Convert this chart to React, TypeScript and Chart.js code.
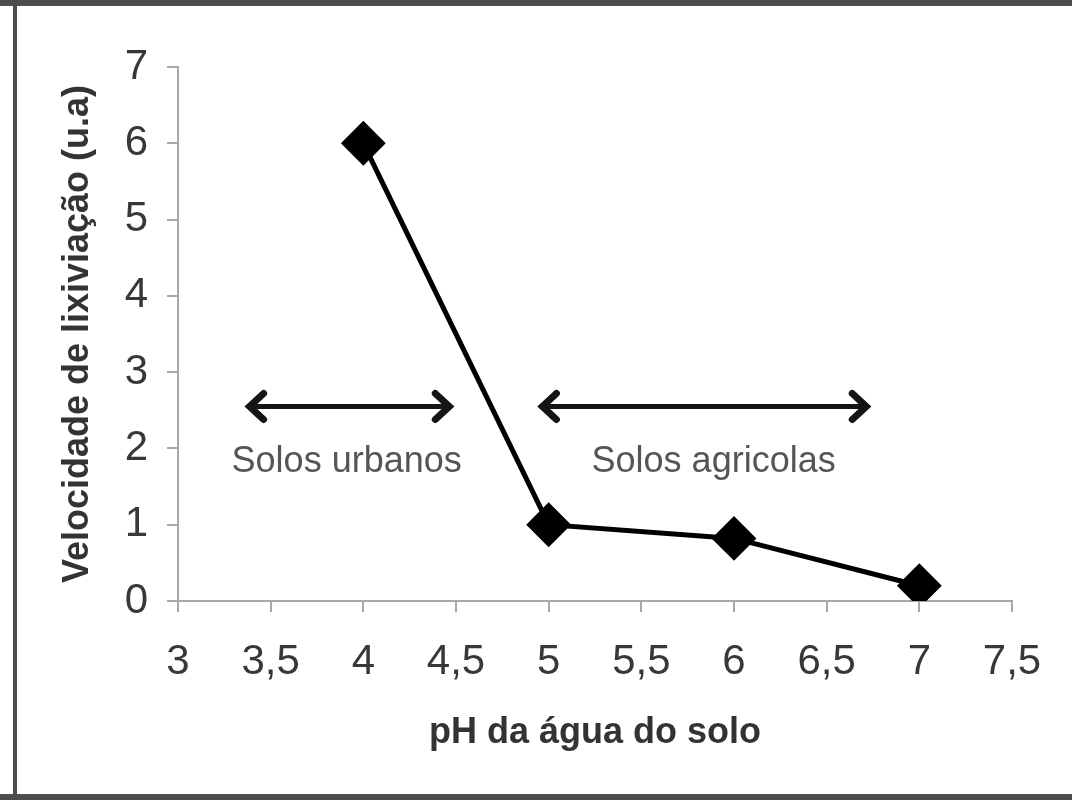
import React, { useEffect, useRef } from "react";
import { Chart, registerables } from "chart.js";

Chart.register(...registerables);

// ---- data ----
const phValues = [4, 5, 6, 7];
const leachingRates = [6, 1, 0.82, 0.2];
const xTickValues = [3, 3.5, 4, 4.5, 5, 5.5, 6, 6.5, 7, 7.5];
const yTickValues = [0, 1, 2, 3, 4, 5, 6, 7];
const xTitle = "pH da água do solo";
const yTitle = "Velocidade de lixiviação (u.a)";
const rangeLabels = ["Solos urbanos", "Solos agricolas"];
const rangeStart = [3.37, 4.95];
const rangeEnd = [4.48, 6.73];
const rangeArrowY = [2.55, 2.55];
const rangeLabelX = [3.91, 5.89];
const rangeLabelY = [1.69, 1.69];

const FONT = "'Liberation Sans', Arial, sans-serif";

const framePlugin = {
  id: "frame",
  beforeDraw(chart: any) {
    const { ctx, width, height } = chart;
    ctx.save();
    ctx.fillStyle = "#ffffff";
    ctx.fillRect(0, 0, width, height);
    ctx.fillStyle = "#4c4c4c";
    ctx.fillRect(0, 0, width, 6);
    ctx.fillRect(13, 0, 4, height);
    ctx.fillRect(0, height - 6, width, 6);
    ctx.restore();
  },
};

const rangePlugin = {
  id: "ranges",
  afterDatasetsDraw(chart: any) {
    const { ctx, scales } = chart;
    const xs = scales.x;
    const ys = scales.y;
    ctx.save();
    for (let i = 0; i < rangeLabels.length; i++) {
      const x1 = xs.getPixelForValue(rangeStart[i]);
      const x2 = xs.getPixelForValue(rangeEnd[i]);
      const y = ys.getPixelForValue(rangeArrowY[i]);
      ctx.strokeStyle = "#151515";
      ctx.lineWidth = 5;
      ctx.lineCap = "butt";
      ctx.beginPath();
      ctx.moveTo(x1 + 3, y);
      ctx.lineTo(x2 - 3, y);
      ctx.stroke();
      ctx.lineWidth = 7;
      ctx.lineJoin = "miter";
      ctx.lineCap = "round";
      ctx.beginPath();
      ctx.moveTo(x1 + 17, y - 13);
      ctx.lineTo(x1 + 3, y);
      ctx.lineTo(x1 + 17, y + 13);
      ctx.stroke();
      ctx.beginPath();
      ctx.moveTo(x2 - 17, y - 13);
      ctx.lineTo(x2 - 3, y);
      ctx.lineTo(x2 - 17, y + 13);
      ctx.stroke();

      ctx.fillStyle = "#555555";
      ctx.font = `36px ${FONT}`;
      ctx.textAlign = "center";
      ctx.textBaseline = "alphabetic";
      ctx.fillText(
        rangeLabels[i],
        xs.getPixelForValue(rangeLabelX[i]),
        ys.getPixelForValue(rangeLabelY[i])
      );
    }
    ctx.restore();
  },
};

export default function App() {
  const canvasRef = useRef<HTMLCanvasElement | null>(null);

  useEffect(() => {
    if (!canvasRef.current) return;
    const axisGray = "#a8a8a8";
    const chart = new Chart(canvasRef.current, {
      type: "scatter",
      data: {
        datasets: [
          {
            data: phValues.map((x, i) => ({ x, y: leachingRates[i] })),
            showLine: true,
            borderColor: "#000000",
            borderWidth: 5,
            pointStyle: "rectRot",
            pointRadius: 21,
            pointHoverRadius: 21,
            pointBackgroundColor: "#000000",
            pointBorderColor: "#000000",
            pointBorderWidth: 2,
          },
        ],
      },
      options: {
        responsive: false,
        animation: false,
        devicePixelRatio: 1,
        layout: { padding: { left: 56, top: 67, right: 60, bottom: 45 } },
        plugins: { legend: { display: false }, tooltip: { enabled: false } },
        scales: {
          x: {
            type: "linear",
            min: 3,
            max: 7.5,
            afterBuildTicks: (s: any) => {
              s.ticks = xTickValues.map((v) => ({ value: v }));
            },
            afterFit: (s: any) => {
              s.height = 154;
            },
            ticks: {
              autoSkip: false,
              maxRotation: 0,
              padding: 25,
              color: "#383838",
              font: { family: FONT, size: 42 },
              callback: (v: any) => String(v).replace(".", ","),
            },
            grid: {
              drawOnChartArea: false,
              drawTicks: true,
              tickLength: 11,
              color: axisGray,
              lineWidth: 2,
            },
            border: { display: true, color: axisGray, width: 2 },
            title: {
              display: true,
              text: xTitle,
              color: "#333333",
              padding: 0,
              font: { family: FONT, size: 36, weight: "bold" },
            },
          },
          y: {
            type: "linear",
            min: 0,
            max: 7,
            afterBuildTicks: (s: any) => {
              s.ticks = yTickValues.map((v) => ({ value: v }));
            },
            afterFit: (s: any) => {
              s.width = 122;
            },
            ticks: {
              autoSkip: false,
              padding: 19,
              color: "#383838",
              font: { family: FONT, size: 42 },
            },
            grid: {
              drawOnChartArea: false,
              drawTicks: true,
              tickLength: 11,
              color: axisGray,
              lineWidth: 2,
            },
            border: { display: true, color: axisGray, width: 2 },
            title: {
              display: true,
              text: yTitle,
              color: "#333333",
              padding: 0,
              font: { family: FONT, size: 36, weight: "bold" },
            },
          },
        },
      },
      plugins: [framePlugin, rangePlugin],
    } as any);
    return () => chart.destroy();
  }, []);

  return (
    <div style={{ position: "fixed", left: 0, top: 0, width: 1072, height: 800 }}>
      <canvas ref={canvasRef} width={1072} height={800} style={{ display: "block" }} />
    </div>
  );
}
